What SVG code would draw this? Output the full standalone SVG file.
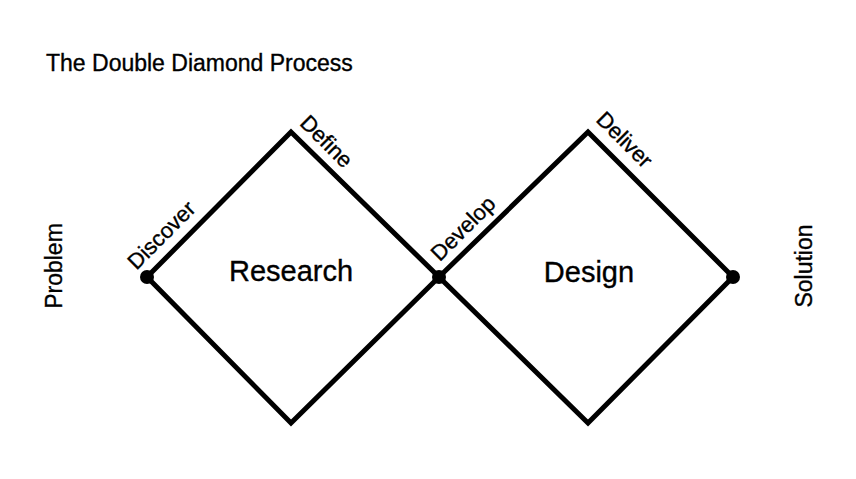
<svg xmlns="http://www.w3.org/2000/svg" width="856" height="479" viewBox="0 0 856 479">
<style>
text{font-family:"Liberation Sans",Arial,sans-serif;fill:#000;stroke:#000;stroke-width:0.35}
.lbl{font-size:22px}
.big{font-size:29px}
.side{font-size:23px}
.dia{fill:none;stroke:#000;stroke-width:5;stroke-linejoin:miter}
.dot{fill:#000}
</style>
<rect width="856" height="479" fill="#fff"/>
<text x="46" y="71" style="font-size:23px">The Double Diamond Process</text>
<g id="problem"><text class="side" transform="translate(62,266) rotate(-90)" text-anchor="middle">Problem</text></g>
<g id="solution"><text class="side" transform="translate(812,266) rotate(-90)" text-anchor="middle">Solution</text></g>
<g id="connectors">
<polygon class="dia" points="147,277 291,132 439,277 291,423"/>
<polygon class="dia" points="439,277 588,132 733,277 588,423"/>
</g>
<g id="research"><text class="big" x="291" y="281" text-anchor="middle">Research</text></g>
<g id="design"><text class="big" x="589" y="282" text-anchor="middle">Design</text></g>
<g id="discover"><text class="lbl" transform="translate(147,277) rotate(-45)" x="-3" y="-12">Discover</text></g>
<g id="define"><text class="lbl" transform="translate(291,132) rotate(45)" x="0" y="-11">Define</text></g>
<g id="develop"><text class="lbl" transform="translate(439,277) rotate(-45)" x="11" y="-10">Develop</text></g>
<g id="deliver"><text class="lbl" transform="translate(588,132) rotate(45)" x="-3" y="-13">Deliver</text></g>
<g id="start"><circle class="dot" cx="147" cy="277" r="7"/></g>
<g id="mid"><circle class="dot" cx="439" cy="277" r="7"/></g>
<g id="end"><circle class="dot" cx="733" cy="277" r="7"/></g>
</svg>
